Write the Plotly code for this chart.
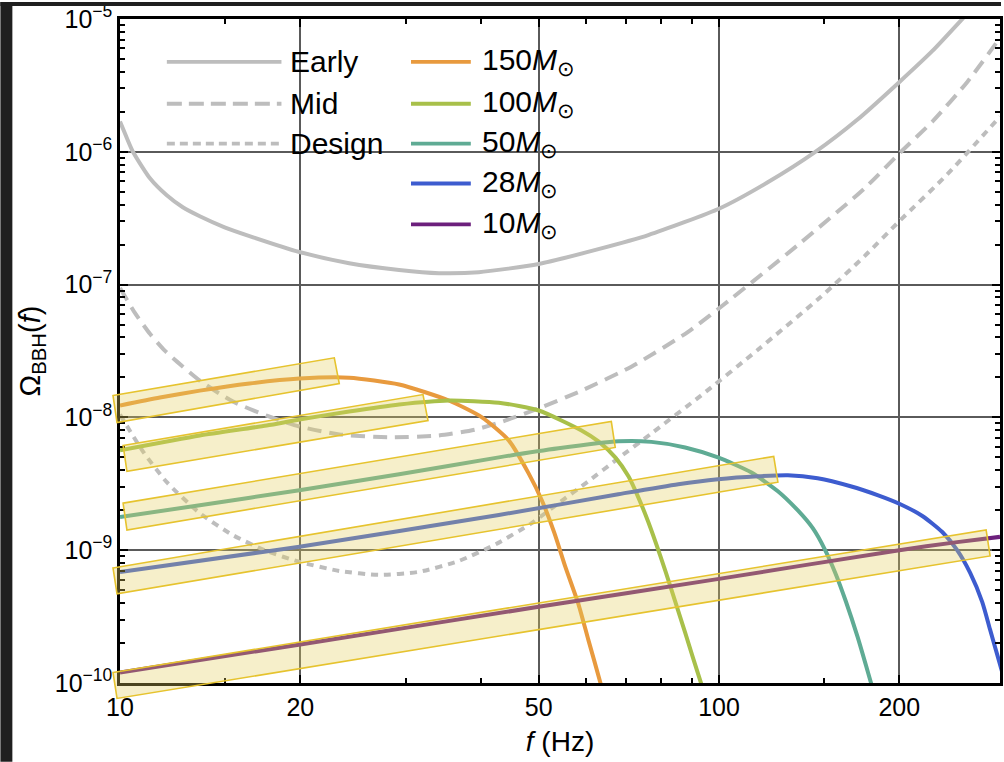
import math
import plotly.graph_objects as go

# ---------------- data ----------------
early_f = [10, 10.23, 10.51, 11.22, 11.97, 12.73, 13.59, 14.95, 16.45, 19.93, 24.13, 29.24, 34.07,
           39.72, 50.0, 62.9, 76.2, 100.4, 120.6, 144.4, 170.3, 200.1, 227.1, 254.7, 275]
early_v = [1.69e-6, 1.32e-6, 1.0e-6, 6.31e-7, 4.7e-7, 3.82e-7, 3.27e-7, 2.7e-7, 2.32e-7, 1.76e-7,
           1.45e-7, 1.29e-7, 1.22e-7, 1.24e-7, 1.43e-7, 1.85e-7, 2.36e-7, 3.76e-7, 5.89e-7, 9.89e-7,
           1.75e-6, 3.36e-6, 5.75e-6, 1.0e-5, 1.46e-5]

mid_f = [10, 10.59, 11.22, 11.88, 12.45, 13.59, 15.42, 17.57, 19.93, 23.23, 28.13, 34.07, 39.27,
         44.05, 50.0, 58.95, 71.4, 88.8, 104.7, 135.3, 175.0, 200.8, 227.1, 259.7, 294.5]
mid_v = [9.42e-8, 6.12e-8, 4.26e-8, 3.18e-8, 2.63e-8, 1.89e-8, 1.32e-8, 1.03e-8, 8.54e-9, 7.45e-9,
         7.07e-9, 7.31e-9, 8.11e-9, 9.48e-9, 1.17e-8, 1.59e-8, 2.41e-8, 4.41e-8, 7.8e-8, 1.98e-7,
         5.31e-7, 9.89e-7, 1.69e-6, 3.36e-6, 7.2e-6]

design_f = [10, 10.92, 11.97, 13.59, 15.42, 17.57, 19.93, 23.23, 27.07, 31.56, 36.8, 42.4, 48.67,
            53.96, 60.5, 67.9, 77.1, 93.3, 116.1, 147.8, 175.0, 200.8, 240.4, 294.5]
design_v = [1.05e-8, 5.55e-9, 3.25e-9, 1.9e-9, 1.3e-9, 9.86e-10, 8.16e-10, 6.98e-10, 6.52e-10,
            6.87e-10, 8.3e-10, 1.11e-9, 1.6e-9, 2.26e-9, 3.3e-9, 4.92e-9, 7.57e-9, 1.46e-8,
            3.23e-8, 8.07e-8, 1.64e-7, 3.06e-7, 6.76e-7, 1.84e-6]

m150_f = [10, 11.66, 13.59, 16.45, 19.93, 24.13, 29.24, 35.4, 40.2, 44.56, 48.1, 50.6, 53.1, 55.4,
          58.3, 60.5, 63.4, 65.9]
m150_v = [1.228e-8, 1.41e-8, 1.59e-8, 1.8e-8, 1.96e-8, 1.99e-8, 1.77e-8, 1.34e-8, 1.0e-8, 6.71e-9,
          3.79e-9, 2.38e-9, 1.35e-9, 7.48e-10, 3.88e-10, 2.12e-10, 1.0e-10, 5.0e-11]

m100_f = [10, 13.59, 17.57, 19.93, 24.13, 29.24, 35.4, 42.9, 50.0, 58.95, 62.9, 67.1, 70.6, 73.3,
          76.2, 79.8, 83.2, 87.8, 93.3, 97.0]
m100_v = [5.65e-9, 7.31e-9, 8.69e-9, 9.64e-9, 1.107e-8, 1.25e-8, 1.34e-8, 1.29e-8, 1.127e-8,
          7.97e-9, 6.59e-9, 5.0e-9, 3.6e-9, 2.51e-9, 1.63e-9, 9.06e-10, 5.12e-10, 2.39e-10,
          1.0e-10, 6.0e-11]

m50_f = [10, 13.59, 19.93, 29.24, 42.9, 53.96, 67.9, 77.1, 87.8, 99.6, 113.1, 125.4, 135.3, 143.3,
         150.1, 156.6, 162.7, 170.3, 178.3, 185.3]
m50_v = [1.775e-9, 2.18e-9, 2.83e-9, 3.73e-9, 5.0e-9, 5.85e-9, 6.6e-9, 6.54e-9, 5.94e-9, 5.0e-9,
         3.86e-9, 2.78e-9, 2.0e-9, 1.47e-9, 1.02e-9, 6.63e-10, 4.16e-10, 2.23e-10, 1.1e-10, 6.0e-11]

m28_f = [10, 19.93, 42.9, 67.9, 85.5, 99.6, 116.1, 130.3, 146.1, 165.8, 183.9, 200.8, 218.5, 235.9,
         249.8, 262.6, 275.0, 283.5, 294.5, 306]
m28_v = [6.86e-10, 1.06e-9, 1.84e-9, 2.64e-9, 3.14e-9, 3.42e-9, 3.6e-9, 3.67e-9, 3.48e-9, 3.03e-9,
         2.6e-9, 2.22e-9, 1.81e-9, 1.37e-9, 1.0e-9, 6.74e-10, 4.08e-10, 2.52e-10, 1.38e-10, 7.5e-11]

m10_f = [10, 20, 50, 100, 200, 249.8, 294.5]
m10_v = [1.2e-10, 1.95e-10, 3.75e-10, 6.08e-10, 1.0e-9, 1.15e-9, 1.26e-9]

# highlight boxes around the inspiral parts: corners (f, Omega) in data units
box_150 = [(9.735, 1.46e-8), (22.79, 2.81e-8), (23.23, 1.80e-8), (9.886, 9.16e-9)]
box_100 = [(10.12, 6.15e-9), (32.05, 1.486e-8), (32.67, 9.48e-9), (10.27, 3.93e-9)]
box_50 = [(10.12, 2.26e-9), (66.1, 9.31e-9), (67.1, 5.94e-9), (10.27, 1.42e-9)]
box_28 = [(9.735, 7.35e-10), (123.4, 5.09e-9), (125.4, 3.25e-9), (9.886, 4.69e-10)]
box_10 = [(9.735, 1.2e-10), (279.2, 1.42e-9), (283.5, 9.05e-10), (9.886, 7.65e-11)]

x_ticks = [10, 20, 50, 100, 200]
x_minor = [15, 30, 40, 60, 70, 80, 90, 150]
y_ticks = [1e-10, 1e-9, 1e-8, 1e-7, 1e-6, 1e-5]
y_ticktext = ["10<sup>\u221210</sup>", "10<sup>\u22129</sup>", "10<sup>\u22128</sup>",
              "10<sup>\u22127</sup>", "10<sup>\u22126</sup>", "10<sup>\u22125</sup>"]
y_minor = [m * 10.0 ** e for e in range(-10, -5) for m in range(2, 10)]

det_names = ["Early", "Mid", "Design"]
bbh_names = ["150", "100", "50", "28", "10"]

# ---------------- styling ----------------
GRAY = "#bdbdbd"
C150, C100, C50, C28, C10 = "#e89a3e", "#a8c04a", "#5fab94", "#3d5ccf", "#6c1f7c"
FONT = "Liberation Sans"

X_RANGE = [1.0, math.log10(294.5)]
Y_RANGE = [-10.0002, -4.9998]
W, H = 1004, 762
ML, MR, MT, MB = 120, 1, 17, 79


def to_paper(f, v):
    xp = (math.log10(f) - X_RANGE[0]) / (X_RANGE[1] - X_RANGE[0])
    yp = (math.log10(v) - Y_RANGE[0]) / (Y_RANGE[1] - Y_RANGE[0])
    return xp, yp


def px_to_paper(px, py):
    return (px - ML) / (W - ML - MR), (H - MB - py) / (H - MT - MB)


fig = go.Figure()

curves = [
    (early_f, early_v, GRAY, "solid", "Early"),
    (mid_f, mid_v, GRAY, "14px,8px", "Mid"),
    (design_f, design_v, GRAY, "7px,6px", "Design"),
    (m150_f, m150_v, C150, "solid", "150 M\u2299"),
    (m100_f, m100_v, C100, "solid", "100 M\u2299"),
    (m50_f, m50_v, C50, "solid", "50 M\u2299"),
    (m28_f, m28_v, C28, "solid", "28 M\u2299"),
    (m10_f, m10_v, C10, "solid", "10 M\u2299"),
]
for fx, vy, col, dash, name in curves:
    fig.add_trace(go.Scatter(x=fx, y=vy, mode="lines", name=name, showlegend=False,
                             line=dict(color=col, width=4, dash=dash, shape="spline", smoothing=0.6),
                             hoverinfo="skip"))

shapes = []
for box in [box_150, box_100, box_50, box_28, box_10]:
    pts = [to_paper(f, v) for f, v in box]
    path = "M " + " L ".join(f"{x:.5f},{y:.5f}" for x, y in pts) + " Z"
    shapes.append(dict(type="path", xref="paper", yref="paper", path=path, layer="above",
                       line=dict(color="#e6c32e", width=1.6),
                       fillcolor="rgba(228,205,95,0.33)"))

# dark border strips of the screenshot
x0, y0 = px_to_paper(0, 0)
x12, y4 = px_to_paper(12, 4)
x_r, yb = px_to_paper(W, H)
shapes.append(dict(type="rect", xref="paper", yref="paper", x0=x0, x1=x12, y0=yb, y1=y0,
                   fillcolor="#1f1f1f", line=dict(width=0), layer="above"))
shapes.append(dict(type="rect", xref="paper", yref="paper", x0=x0, x1=x_r, y0=y4, y1=y0,
                   fillcolor="#1f1f1f", line=dict(width=0), layer="above"))

annotations = []
det_rows = [60, 102, 142]
det_dash = ["solid", "15px,7px", "8px,5px"]
for name, ry, dsh in zip(det_names, det_rows, det_dash):
    lx0, ly = px_to_paper(167, ry)
    lx1, _ = px_to_paper(282, ry)
    shapes.append(dict(type="line", xref="paper", yref="paper", x0=lx0, x1=lx1, y0=ly, y1=ly,
                       line=dict(color=GRAY, width=3.8, dash=dsh), layer="above"))
    tx, ty = px_to_paper(289, ry)
    annotations.append(dict(x=tx, y=ty, xref="paper", yref="paper", text=name, showarrow=False,
                            xanchor="left", yanchor="middle", font=dict(size=30, color="black", family=FONT)))

bbh_rows = [60, 102, 142, 182, 223]
bbh_cols = [C150, C100, C50, C28, C10]
for name, ry, col in zip(bbh_names, bbh_rows, bbh_cols):
    lx0, ly = px_to_paper(412, ry)
    lx1, _ = px_to_paper(472, ry)
    shapes.append(dict(type="line", xref="paper", yref="paper", x0=lx0, x1=lx1, y0=ly, y1=ly,
                       line=dict(color=col, width=3.8), layer="above"))
    tx, ty = px_to_paper(481, ry)
    annotations.append(dict(x=tx, y=ty, xref="paper", yref="paper",
                            text=f"{name}<i>M</i><sub>\u2299</sub>", showarrow=False,
                            xanchor="left", yanchor="middle", font=dict(size=30, color="black", family=FONT)))

fig.update_layout(
    width=W, height=H,
    margin=dict(l=ML, r=MR, t=MT, b=MB, pad=0),
    paper_bgcolor="white", plot_bgcolor="white",
    font=dict(family=FONT, color="black"),
    shapes=shapes, annotations=annotations,
    showlegend=False,
)

fig.update_xaxes(
    type="log", range=X_RANGE,
    tickvals=x_ticks, ticktext=[str(t) for t in x_ticks],
    ticks="inside", ticklen=8, tickwidth=2, tickcolor="black",
    showline=True, linecolor="black", linewidth=2.5, mirror="ticks",
    showgrid=True, gridcolor="#5a5a5a", gridwidth=1.5,
    minor=dict(tickvals=x_minor, ticks="inside", ticklen=5, tickwidth=1.5, tickcolor="black", showgrid=False),
    tickfont=dict(size=25, family=FONT, color="black"),
    ticklabeloverflow="allow",
    title=dict(text="<i>f</i> (Hz)", font=dict(size=28, family=FONT, color="black"), standoff=12),
    zeroline=False,
)
fig.update_yaxes(
    type="log", range=Y_RANGE,
    tickvals=y_ticks, ticktext=y_ticktext,
    ticks="inside", ticklen=8, tickwidth=2, tickcolor="black",
    showline=True, linecolor="black", linewidth=2.5, mirror="ticks",
    showgrid=True, gridcolor="#5a5a5a", gridwidth=1.5,
    minor=dict(tickvals=y_minor, ticks="inside", ticklen=5, tickwidth=1.5, tickcolor="black", showgrid=False),
    tickfont=dict(size=25, family=FONT, color="black"),
    ticklabeloverflow="allow",
    title=dict(text="\u03a9<sub>BBH</sub>(<i>f</i>)", font=dict(size=29, family=FONT, color="black"), standoff=6),
    zeroline=False,
)

fig.write_html("out.html", config={"displayModeBar": False},
               post_script="document.body.style.margin='0';")
